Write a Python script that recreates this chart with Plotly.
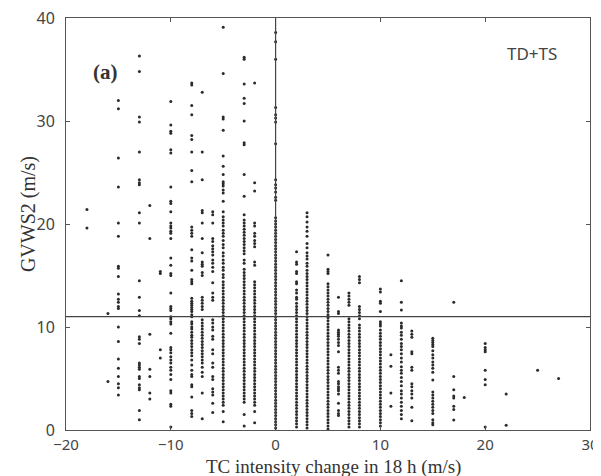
import plotly.graph_objects as go

# ---- data: GVWS2 (m/s) values per TC intensity-change bin (m/s) ----
col_m18 = [21.4, 19.6]
col_m16 = [11.3, 4.7]
col_m15 = [32.0, 31.2, 26.4, 23.6, 20.1, 18.8, 15.9, 15.7, 14.9, 13.2, 12.7, 12.4, 12.0, 11.8,
           10.0, 8.6, 6.9, 6.0, 5.2, 4.5, 4.1, 3.4]
col_m13 = [36.3, 34.8, 30.4, 29.9, 27.0, 24.3, 24.0, 23.8, 21.1, 20.1, 14.5, 12.9, 11.6, 11.1,
           9.05, 8.8, 8.4, 6.5, 6.3, 6.1, 5.9, 5.2, 5.0, 4.4, 4.1, 3.9, 1.9, 1.0]
col_m12 = [21.8, 18.6, 9.3, 5.9, 5.2, 3.6, 3.0]
col_m11 = [15.4, 15.2, 7.8, 7.0]
col_m10 = [31.9, 29.6, 29.0, 28.8, 27.2, 26.9, 23.6, 22.2, 22.0, 21.2, 20.1, 19.8, 19.6, 19.3,
           19.1, 18.6, 16.7, 16.0, 15.2, 15.0, 13.3, 12.0, 11.8, 11.6, 11.0, 10.8, 10.5, 10.3,
           9.4, 8.0, 7.8, 7.5, 7.1, 6.8, 6.5, 6.1, 5.8, 5.4, 4.9, 3.8, 3.6, 2.5, 2.3, 0.3]
col_m8 = [33.7, 33.5, 31.5, 30.6, 28.6, 28.2, 27.0, 25.2, 24.1, 19.7, 19.4, 19.1, 18.8, 17.5,
          16.7, 16.4, 15.5, 14.6, 14.4, 14.2, 12.8, 12.5, 12.3, 12.1, 11.9, 11.7, 11.5, 11.2,
          11.0, 10.5, 10.3, 10.0, 9.8, 9.5, 9.2, 9.0, 8.7, 8.4, 8.1, 7.8, 7.5, 7.2, 6.8, 6.3,
          5.8, 5.4, 5.2, 4.4, 4.2, 3.2, 1.9, 1.6, 1.3]
col_m7 = [32.8, 27.0, 24.3, 21.3, 21.1, 20.1, 18.6, 17.2, 16.3, 16.1, 15.9, 15.3, 15.0, 12.9,
          12.6, 12.3, 12.0, 11.7, 10.7, 10.4, 10.1, 9.8, 9.5, 9.2, 8.9, 8.6, 8.3, 8.0, 7.7,
          7.4, 7.1, 6.8, 6.5, 6.1, 5.6, 5.2, 3.6, 1.1]
col_m6 = [21.2, 20.9, 20.1, 18.6, 18.3, 17.9, 17.6, 17.3, 17.0, 16.5, 16.2, 15.8, 15.4, 14.3,
          13.3, 12.9, 12.6, 10.7, 10.4, 10.0, 9.7, 9.1, 8.8, 7.8, 7.4, 6.5, 6.1, 5.2, 4.9, 4.0,
          3.7, 3.4, 2.6, 1.7]
col_m5 = [39.1, 34.6, 30.4, 30.2, 29.1, 26.6, 25.6, 24.8, 24.1, 23.9, 23.7, 23.3, 23.0, 22.2,
          21.2, 20.7, 20.4, 20.1, 19.8, 19.4, 19.1, 18.8, 18.4, 18.0, 17.7, 17.2, 16.9, 16.5,
          16.2, 15.8, 15.5, 15.1, 14.8, 14.4, 14.1, 13.8, 13.5, 13.2, 12.9, 12.6, 12.3, 12.0,
          11.7, 11.4, 11.1, 10.8, 10.5, 10.2, 9.9, 9.6, 9.3, 9.0, 8.7, 8.4, 8.1, 7.8, 7.5, 7.2,
          6.9, 6.6, 6.3, 6.0, 5.7, 5.4, 5.1, 4.8, 4.5, 4.2, 3.9, 3.6, 3.3, 3.0, 2.7, 2.4, 1.8, 0.8]
col_m3 = [36.2, 36.0, 33.6, 32.2, 31.7, 30.0, 27.9, 27.7, 24.8, 22.7, 20.9, 20.4, 20.1, 19.8,
          19.5, 19.2, 18.9, 18.6, 18.3, 18.0, 17.7, 17.4, 17.1, 16.5, 16.2, 15.6, 15.3, 15.0,
          14.7, 14.4, 14.1, 13.8, 13.5, 13.2, 12.9, 12.6, 12.3, 12.0, 11.7, 11.4, 11.1, 10.8,
          10.5, 10.2, 9.9, 9.6, 9.3, 9.0, 8.7, 8.4, 8.1, 7.8, 7.5, 7.2, 6.9, 6.6, 6.3, 6.0, 5.7,
          5.4, 5.1, 4.8, 4.5, 4.2, 3.9, 3.6, 3.3, 3.0, 2.7, 1.5, 0.4]
col_m2 = [33.7, 24.0, 23.2, 20.1, 19.8, 19.1, 18.8, 18.4, 18.1, 17.8, 16.3, 16.0, 14.4, 14.1,
          13.8, 13.5, 13.2, 12.9, 12.6, 12.3, 12.0, 11.7, 11.4, 11.1, 10.8, 10.5, 10.2, 9.9,
          9.6, 9.3, 9.0, 8.7, 8.4, 8.1, 7.8, 7.5, 7.2, 6.9, 6.6, 6.3, 6.0, 5.7, 5.4, 5.1, 4.8,
          4.5, 4.2, 3.9, 3.6, 3.3, 3.0, 2.7, 2.4, 1.8, 0.7]
col_0 = [38.6, 37.7, 36.0, 31.3, 30.6, 30.3, 29.9, 27.8, 24.3, 23.8, 23.5, 23.1, 22.6, 22.3,
         20.6, 20.3, 20.0, 19.7, 19.4, 19.1, 18.8, 18.5, 18.2, 17.9, 17.6, 17.3, 17.0, 16.7,
         16.4, 16.1, 15.8, 15.5, 15.2, 14.9, 14.6, 14.3, 14.0, 13.7, 13.4, 13.1, 12.8, 12.5,
         12.2, 11.9, 11.6, 11.3, 11.0, 10.7, 10.4, 10.1, 9.8, 9.5, 9.2, 8.9, 8.6, 8.3, 8.0,
         7.7, 7.4, 7.1, 6.8, 6.5, 6.2, 5.9, 5.6, 5.3, 5.0, 4.7, 4.4, 4.1, 3.8, 3.5, 3.2, 2.9,
         2.6, 2.3, 2.0, 1.7, 1.4, 1.1, 0.8, 0.5, 0.2]
col_2 = [17.3, 16.3, 16.1, 15.4, 15.2, 14.4, 14.2, 13.6, 13.3, 12.9, 12.7, 12.3, 12.0, 11.7,
         11.4, 11.1, 10.8, 10.5, 10.2, 9.9, 9.6, 9.3, 9.0, 8.7, 8.4, 8.1, 7.8, 7.5, 7.2, 6.9,
         6.6, 6.3, 6.0, 5.7, 5.4, 5.1, 4.8, 4.5, 4.2, 3.9, 3.6, 3.3, 3.0, 2.7, 2.4, 2.1, 1.8,
         1.5, 1.2, 0.9, 0.6, 0.3]
col_3 = [21.1, 20.7, 20.2, 19.7, 19.3, 18.8, 18.1, 17.7, 17.2, 16.9, 16.6, 16.2, 15.9, 15.5,
         15.2, 14.9, 14.6, 14.3, 14.0, 13.7, 13.4, 13.1, 12.8, 12.5, 12.2, 11.9, 11.6, 11.3,
         11.0, 10.7, 10.4, 10.1, 9.8, 9.5, 9.2, 8.9, 8.6, 8.3, 8.0, 7.7, 7.4, 7.1, 6.8, 6.5,
         6.2, 5.9, 5.6, 5.3, 5.0, 4.7, 4.4, 4.1, 3.8, 3.5, 3.2, 2.9, 2.6, 2.3, 2.0, 1.7, 1.4,
         1.1, 0.8, 0.5, 0.2]
col_5 = [17.0, 15.6, 15.4, 15.2, 14.2, 13.9, 13.6, 13.3, 13.0, 12.7, 12.4, 12.1, 11.8, 11.5,
         11.2, 10.9, 10.6, 10.3, 10.0, 9.7, 9.4, 9.1, 8.8, 8.5, 8.2, 7.9, 7.6, 7.3, 7.0, 6.7,
         6.4, 6.1, 5.8, 5.5, 5.2, 4.9, 4.6, 4.3, 4.0, 3.7, 3.4, 3.1, 2.8, 2.5, 2.2, 1.9, 1.6,
         1.3, 1.0, 0.7, 0.4, 0.1]
col_6 = [12.9, 11.5, 11.3, 9.7, 9.5, 9.3, 9.1, 8.8, 8.5, 8.2, 7.6, 6.1, 5.8, 5.5, 4.7, 4.5,
         4.2, 4.0, 3.8, 3.5, 2.6, 1.9, 1.6, 1.4]
col_7 = [13.3, 13.0, 12.7, 12.4, 12.1, 10.8, 10.5, 10.2, 9.9, 9.6, 9.3, 9.0, 8.7, 8.4, 8.1,
         7.8, 7.5, 7.2, 6.9, 6.6, 6.3, 6.0, 5.7, 5.4, 5.1, 4.8, 4.5, 4.2, 3.9, 3.6, 3.3, 3.0,
         2.7, 2.4, 2.1, 1.8, 1.5, 1.2, 0.9, 0.6, 0.3]
col_8 = [14.9, 14.6, 14.3, 12.0, 11.7, 11.4, 11.1, 10.8, 10.2, 9.9, 9.6, 9.3, 9.0, 8.7, 8.4,
         8.1, 7.8, 7.5, 7.2, 6.9, 6.6, 6.3, 6.0, 5.7, 5.4, 5.1, 4.8, 4.5, 4.2, 3.9, 3.6, 3.3,
         3.0, 2.7, 2.4, 2.1, 1.8, 1.5, 1.2, 0.9, 0.6, 0.3]
col_10 = [13.7, 13.4, 12.5, 12.3, 11.5, 10.5, 10.3, 10.1, 9.7, 9.4, 9.1, 8.8, 8.5, 8.2, 7.9,
          7.6, 7.3, 7.0, 6.7, 6.4, 6.1, 5.8, 5.5, 5.2, 4.9, 4.6, 4.3, 4.0, 3.7, 3.4, 3.1, 2.8,
          2.5, 2.2, 1.9, 1.6, 1.3, 1.0, 0.7, 0.4]
col_11 = [7.3, 6.2, 3.6, 2.3]
col_12 = [14.5, 12.4, 11.65, 10.4, 10.1, 9.9, 9.5, 9.2, 8.8, 8.4, 8.1, 7.8, 7.4, 7.0, 6.6,
          6.15, 5.8, 5.5, 5.1, 4.7, 4.3, 3.8, 3.5, 3.1, 2.7, 2.3, 1.9, 1.5, 1.1]
col_13 = [9.6, 9.3, 9.0, 7.6, 7.4, 6.1, 5.8, 4.5, 4.2, 3.8, 3.5, 3.1, 2.2, 0.9]
col_15 = [8.9, 8.7, 8.5, 8.3, 8.1, 7.7, 7.3, 7.0, 6.6, 6.3, 6.0, 5.6, 4.85, 3.7, 3.4, 3.1,
          2.8, 2.5, 2.2, 1.9, 1.6, 1.0, 0.7, 0.5]
col_17 = [12.4, 5.2, 3.9, 3.3, 3.1, 2.3, 2.0, 0.97]
col_18 = [3.15]
col_20 = [8.4, 8.0, 7.8, 7.6, 5.8, 4.9, 4.4, 0.3]
col_22 = [3.5, 0.45]
col_25 = [5.8]
col_27 = [5.0]

intensity_bins = [-18, -16, -15, -13, -12, -11, -10, -8, -7, -6, -5, -3, -2, 0, 2, 3, 5, 6,
                  7, 8, 10, 11, 12, 13, 15, 17, 18, 20, 22, 25, 27]
gvws_columns = [col_m18, col_m16, col_m15, col_m13, col_m12, col_m11, col_m10, col_m8,
                col_m7, col_m6, col_m5, col_m3, col_m2, col_0, col_2, col_3, col_5, col_6,
                col_7, col_8, col_10, col_11, col_12, col_13, col_15, col_17, col_18, col_20,
                col_22, col_25, col_27]

gvws_threshold = 11.0
zero_change = 0

xs, ys = [], []
for b, col in zip(intensity_bins, gvws_columns):
    xs.extend([b] * len(col))
    ys.extend(col)

ink = "#2b2b2b"
serif = "Liberation Serif"
sans = "Noto Sans"

fig = go.Figure()
fig.add_trace(go.Scatter(
    x=xs, y=ys, mode="markers",
    marker=dict(size=3, color=ink, line=dict(width=0)),
    hoverinfo="skip", showlegend=False,
))

fig.add_hline(y=gvws_threshold, line=dict(color="#444", width=1.2))
fig.add_vline(x=zero_change, line=dict(color="#444", width=1.2))

fig.add_annotation(x=0.076, y=0.869, xref="paper", yref="paper", text="<b>(a)</b>",
                   xanchor="center", yanchor="middle", showarrow=False,
                   font=dict(family=serif, size=21, color="#333"))
fig.add_annotation(x=0.889, y=0.915, xref="paper", yref="paper", text="TD+TS",
                   xanchor="center", yanchor="middle", showarrow=False,
                   font=dict(family=sans, size=17, color="#444"))
# axis titles placed as annotations for exact positioning
fig.add_annotation(x=-0.0725, y=0.524, xref="paper", yref="paper", text="GVWS2 (m/s)",
                   textangle=-90, xanchor="center", yanchor="middle", showarrow=False,
                   font=dict(family=serif, size=20, color="#333"))
fig.add_annotation(x=0.51, y=-0.0895, xref="paper", yref="paper",
                   text="TC intensity change in 18 h (m/s)",
                   xanchor="center", yanchor="middle", showarrow=False, borderpad=0,
                   font=dict(family=serif, size=19, color="#333"))

axis_common = dict(
    showgrid=False, zeroline=False, showline=True, linecolor="#555", linewidth=1,
    mirror="ticks", ticks="inside", ticklen=4, tickcolor="#555", automargin=False,
    ticklabeloverflow="allow",
)
fig.update_xaxes(range=[-20, 30], tickvals=[-20, -10, 0, 10, 20, 30], ticklabelstandoff=1,
                 tickfont=dict(family=sans, size=15, color="#444"), **axis_common)
fig.update_yaxes(range=[0, 40], tickvals=[0, 10, 20, 30, 40], ticklabelstandoff=7,
                 tickfont=dict(family=sans, size=16, color="#444"), **axis_common)

# the page body adds an 8 px offset, so the figure is sized to fit the 601x476 window
fig.update_layout(
    width=593, height=468,
    margin=dict(l=58, r=11, t=10, b=46),
    paper_bgcolor="white", plot_bgcolor="white",
)

fig.write_html("out.html")
